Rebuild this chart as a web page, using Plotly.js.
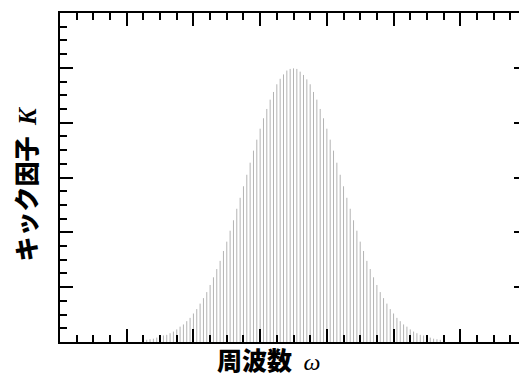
<!DOCTYPE html>
<html>
<head>
<meta charset="utf-8">
<script src="https://cdn.plot.ly/plotly-3.0.1.min.js"></script>
<style>
html,body{margin:0;padding:0;overflow:hidden;background:#fff;}
#chart{width:527px;height:374px;}
</style>
</head>
<body>
<div id="chart"></div>
<script>
// frequency ω of each stem
var omega = [
 1.30,1.35,1.40,1.45,1.50,1.55,1.60,1.65,1.70,1.75,1.80,1.85,1.90,1.95,2.00,
 2.05,2.10,2.15,2.20,2.25,2.30,2.35,2.40,2.45,2.50,2.55,2.60,2.65,2.70,2.75,
 2.80,2.85,2.90,2.95,3.00,3.05,3.10,3.15,3.20,3.25,3.30,3.35,3.40,3.45,3.50,
 3.55,3.60,3.65,3.70,3.75,3.80,3.85,3.90,3.95,4.00,4.05,4.10,4.15,4.20,4.25,
 4.30,4.35,4.40,4.45,4.50,4.55,4.60,4.65,4.70,4.75,4.80,4.85,4.90,4.95,5.00,
 5.05,5.10,5.15,5.20,5.25,5.30,5.35,5.40,5.45,5.50,5.55,5.60,5.65,5.70
];
// kick factor K of each stem
var kick = [
 0.04,0.05,0.06,0.08,0.10,0.12,0.13,0.16,0.19,0.23,0.28,0.32,0.38,0.44,0.52,
 0.60,0.70,0.80,0.91,1.04,1.18,1.33,1.48,1.66,1.83,2.03,2.22,2.43,2.63,2.84,
 3.05,3.27,3.49,3.69,3.89,4.08,4.25,4.42,4.56,4.70,4.80,4.88,4.95,4.98,4.99,
 4.98,4.93,4.87,4.79,4.70,4.56,4.42,4.25,4.08,3.89,3.69,3.49,3.27,3.05,2.84,
 2.63,2.43,2.22,2.03,1.83,1.66,1.48,1.33,1.18,1.04,0.91,0.80,0.70,0.60,0.52,
 0.44,0.38,0.32,0.28,0.23,0.19,0.16,0.13,0.12,0.10,0.08,0.06,0.05,0.04
];
var xTitle = '周波数';
var yTitle = 'キック因子';

var sx = [], sy = [];
for (var i = 0; i < omega.length; i++) {
  sx.push(omega[i], omega[i], null);
  sy.push(0, kick[i], null);
}

var trace = {
  x: sx, y: sy, type: 'scatter', mode: 'lines',
  line: {color: '#b3b3b3', width: 1},
  hoverinfo: 'skip', showlegend: false
};

var axisCommon = {
  showline: true, linecolor: '#000', linewidth: 2,
  mirror: 'allticks', ticks: 'inside', ticklen: 13, tickwidth: 2, tickcolor: '#000',
  showticklabels: false, showgrid: false, zeroline: false, dtick: 1, tick0: 0,
  fixedrange: true
};

var layout = {
  width: 527, height: 374,
  margin: {l: 60, r: 0, t: 13, b: 32},
  paper_bgcolor: '#fff', plot_bgcolor: '#fff',
  xaxis: Object.assign({}, axisCommon, {
    range: [0, 7],
    minor: {dtick: 0.25, ticks: 'inside', ticklen: 7, tickwidth: 2, tickcolor: '#000', showgrid: false}
  }),
  yaxis: Object.assign({}, axisCommon, {
    range: [0, 6],
    minor: {dtick: 0.25, ticks: 'inside', ticklen: 7, tickwidth: 2, tickcolor: '#000', showgrid: false}
  }),
  annotations: [
    {
      xref: 'paper', yref: 'paper', x: 0.447, y: -0.051,
      xanchor: 'center', yanchor: 'middle', showarrow: false,
      text: xTitle + '  <span style="font-family:\'Liberation Serif\';font-weight:normal;font-size:24px"><i>ω</i></span>',
      font: {family: 'Noto Sans CJK JP', size: 25, weight: 900, color: '#000'}
    },
    {
      xref: 'paper', yref: 'paper', x: -0.075, y: 0.482,
      xanchor: 'center', yanchor: 'middle', showarrow: false, textangle: -90,
      text: yTitle + '  <span style="font-family:\'Liberation Serif\';font-weight:bold;font-size:25px"><i>K</i></span>',
      font: {family: 'Noto Sans CJK JP', size: 25, weight: 900, color: '#000'}
    }
  ]
};

Plotly.newPlot('chart', [trace], layout, {staticPlot: true, displayModeBar: false});
</script>
</body>
</html>
